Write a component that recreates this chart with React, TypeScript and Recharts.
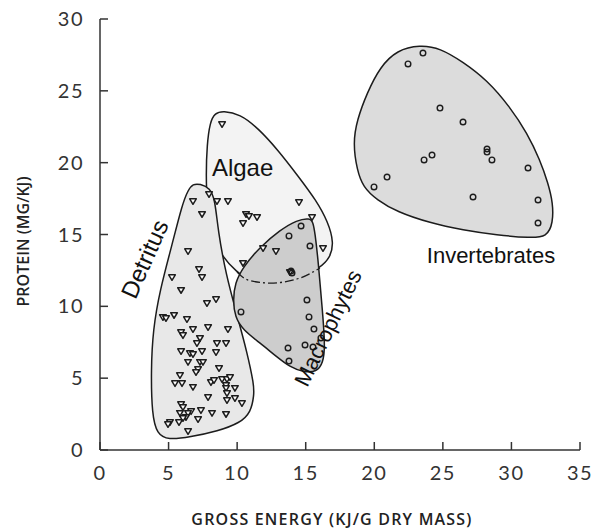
import React from 'react';
import { ScatterChart, Scatter, XAxis, YAxis } from 'recharts';

// axis ticks
const xTicks = [0, 5, 10, 15, 20, 25, 30, 35];
const yTicks = [0, 5, 10, 15, 20, 25, 30];

// samples: gross energy (kJ/g dry mass) vs protein (mg/kJ)
const detritus = [
  { x: 7.95, y: 17.82 }, { x: 6.78, y: 17.33 }, { x: 8.53, y: 17.33 }, { x: 7.44, y: 16.43 },
  { x: 6.42, y: 13.85 }, { x: 7.22, y: 12.6 }, { x: 7.44, y: 12.04 }, { x: 5.25, y: 12.04 },
  { x: 5.91, y: 11.14 }, { x: 7.8, y: 10.23 }, { x: 8.46, y: 10.51 }, { x: 4.59, y: 9.26 },
  { x: 4.81, y: 9.19 }, { x: 5.4, y: 9.4 }, { x: 6.34, y: 9.12 }, { x: 5.91, y: 8.21 },
  { x: 6.05, y: 8.0 }, { x: 6.78, y: 8.42 }, { x: 7.88, y: 8.56 }, { x: 9.33, y: 8.42 },
  { x: 7.29, y: 7.8 }, { x: 7.07, y: 7.45 }, { x: 8.53, y: 7.45 }, { x: 9.19, y: 7.45 },
  { x: 5.91, y: 6.89 }, { x: 6.56, y: 6.75 }, { x: 6.78, y: 6.68 }, { x: 7.44, y: 6.89 },
  { x: 8.46, y: 6.82 }, { x: 6.42, y: 6.13 }, { x: 7.29, y: 6.13 }, { x: 7.51, y: 6.13 },
  { x: 7.15, y: 5.64 }, { x: 7.0, y: 5.43 }, { x: 8.68, y: 5.71 }, { x: 5.83, y: 5.22 },
  { x: 5.47, y: 4.66 }, { x: 5.98, y: 4.66 }, { x: 6.78, y: 4.39 }, { x: 8.09, y: 4.73 },
  { x: 8.31, y: 4.87 }, { x: 8.9, y: 4.94 }, { x: 9.26, y: 4.94 }, { x: 9.48, y: 5.08 },
  { x: 9.19, y: 4.52 }, { x: 9.19, y: 4.32 }, { x: 9.84, y: 4.32 }, { x: 7.88, y: 3.69 },
  { x: 9.26, y: 3.97 }, { x: 9.26, y: 3.48 }, { x: 9.84, y: 3.62 }, { x: 10.35, y: 3.27 },
  { x: 5.91, y: 3.2 }, { x: 6.05, y: 2.99 }, { x: 6.64, y: 2.71 }, { x: 7.36, y: 2.78 },
  { x: 8.17, y: 2.58 }, { x: 5.83, y: 2.58 }, { x: 6.42, y: 2.58 }, { x: 6.27, y: 2.3 },
  { x: 6.05, y: 2.23 }, { x: 5.1, y: 1.95 }, { x: 4.96, y: 1.81 }, { x: 5.76, y: 1.95 },
  { x: 7.15, y: 2.16 }, { x: 9.19, y: 2.51 }, { x: 6.42, y: 1.32 },
];

const algae = [
  { x: 8.9, y: 22.69 }, { x: 9.33, y: 17.33 }, { x: 10.65, y: 16.43 }, { x: 10.86, y: 16.29 },
  { x: 11.45, y: 16.22 }, { x: 10.43, y: 15.8 }, { x: 14.51, y: 17.26 }, { x: 15.46, y: 16.22 },
  { x: 11.89, y: 14.06 }, { x: 12.83, y: 13.85 }, { x: 16.26, y: 14.06 }, { x: 10.43, y: 13.02 },
  { x: 13.85, y: 12.39 },
];

const macrophytes = [
  { x: 14.66, y: 15.59 }, { x: 13.78, y: 14.9 }, { x: 15.31, y: 14.2 }, { x: 13.93, y: 12.46 },
  { x: 14.0, y: 12.32 }, { x: 15.09, y: 10.44 }, { x: 10.28, y: 9.61 }, { x: 15.24, y: 9.26 },
  { x: 15.6, y: 8.42 }, { x: 16.11, y: 7.8 }, { x: 13.71, y: 7.1 }, { x: 14.95, y: 7.31 },
  { x: 15.53, y: 7.17 }, { x: 13.78, y: 6.19 },
];

const invertebrates = [
  { x: 23.55, y: 27.63 }, { x: 22.46, y: 26.87 }, { x: 24.79, y: 23.8 }, { x: 26.47, y: 22.83 },
  { x: 28.22, y: 20.95 }, { x: 28.22, y: 20.74 }, { x: 28.58, y: 20.19 }, { x: 24.21, y: 20.53 },
  { x: 23.63, y: 20.19 }, { x: 31.21, y: 19.63 }, { x: 20.93, y: 19.0 }, { x: 19.98, y: 18.31 },
  { x: 27.2, y: 17.61 }, { x: 31.94, y: 17.4 }, { x: 31.94, y: 15.8 },
];

// group envelopes (control points of the smoothed outlines)
const algaeHull = [
  { x: 8.97, y: 23.6 }, { x: 10.21, y: 23.39 }, { x: 11.52, y: 22.41 }, { x: 12.98, y: 20.88 },
  { x: 14.44, y: 19.07 }, { x: 15.75, y: 17.4 }, { x: 16.63, y: 15.87 }, { x: 17.06, y: 14.41 },
  { x: 16.77, y: 13.36 }, { x: 16.04, y: 12.67 }, { x: 14.58, y: 11.97 }, { x: 12.4, y: 11.62 },
  { x: 10.79, y: 11.83 }, { x: 9.99, y: 12.39 }, { x: 8.9, y: 13.43 }, { x: 8.17, y: 14.96 },
  { x: 7.8, y: 17.05 }, { x: 7.73, y: 19.14 }, { x: 7.8, y: 21.23 }, { x: 8.02, y: 22.83 },
  { x: 8.39, y: 23.46 },
];

const detritusHull = [
  { x: 7.29, y: 18.52 }, { x: 8.02, y: 18.24 }, { x: 8.39, y: 17.4 }, { x: 8.6, y: 15.31 },
  { x: 9.19, y: 12.18 }, { x: 9.99, y: 9.4 }, { x: 10.72, y: 6.82 }, { x: 11.23, y: 4.52 },
  { x: 11.23, y: 3.83 }, { x: 11.01, y: 2.64 }, { x: 10.21, y: 1.88 }, { x: 8.6, y: 1.32 },
  { x: 6.56, y: 0.9 }, { x: 4.96, y: 0.7 }, { x: 4.16, y: 1.11 }, { x: 3.79, y: 2.44 },
  { x: 3.72, y: 5.57 }, { x: 3.86, y: 8.35 }, { x: 4.37, y: 11.14 }, { x: 5.25, y: 14.27 },
  { x: 5.98, y: 17.05 }, { x: 6.42, y: 18.1 }, { x: 6.78, y: 18.52 },
];

const macrophyteHull = [
  { x: 15.31, y: 16.15 }, { x: 14.36, y: 16.01 }, { x: 13.13, y: 15.31 }, { x: 11.67, y: 14.13 },
  { x: 10.43, y: 12.74 }, { x: 9.84, y: 11.62 }, { x: 9.7, y: 10.44 }, { x: 9.84, y: 9.26 },
  { x: 10.43, y: 8.35 }, { x: 11.67, y: 7.45 }, { x: 12.91, y: 6.47 }, { x: 13.85, y: 5.78 },
  { x: 14.8, y: 5.43 }, { x: 15.82, y: 5.43 }, { x: 16.26, y: 6.06 }, { x: 16.41, y: 7.17 },
  { x: 16.26, y: 9.26 }, { x: 16.04, y: 11.62 }, { x: 15.9, y: 13.22 }, { x: 15.68, y: 15.1 },
  { x: 15.53, y: 15.87 },
];

const invertebrateHull = [
  { x: 23.33, y: 28.19 }, { x: 21.66, y: 27.84 }, { x: 20.42, y: 26.66 }, { x: 19.47, y: 24.85 },
  { x: 18.74, y: 22.97 }, { x: 18.45, y: 21.37 }, { x: 18.74, y: 19.49 }, { x: 19.18, y: 18.31 },
  { x: 20.2, y: 17.4 }, { x: 21.66, y: 16.57 }, { x: 24.06, y: 15.8 }, { x: 26.47, y: 15.31 },
  { x: 28.95, y: 14.96 }, { x: 31.36, y: 14.76 }, { x: 32.59, y: 14.83 }, { x: 33.03, y: 15.8 },
  { x: 33.03, y: 17.19 }, { x: 32.67, y: 18.58 }, { x: 32.08, y: 20.19 }, { x: 31.14, y: 22.06 },
  { x: 29.9, y: 23.87 }, { x: 28.22, y: 25.75 }, { x: 26.47, y: 27.01 }, { x: 24.79, y: 27.98 },
];

// algae boundary hidden beneath the macrophyte envelope (dash-dot)
const algaeHiddenEdge = [
  { x: 9.99, y: 12.39 }, { x: 10.79, y: 11.83 }, { x: 12.4, y: 11.62 }, { x: 14.58, y: 11.97 },
  { x: 16.04, y: 12.67 },
];

// group names and where they sit (data units)
const groupNames = ['Algae', 'Detritus', 'Macrophytes', 'Invertebrates'];
const groupNameX = [10.4, 3.25, 16.63, 28.51];
const groupNameY = [19.63, 13.3, 8.49, 13.57];
const groupNameAngle = [0, -66, -64, 0];

const groupLabels = groupNames.map((name, i) => ({
  x: groupNameX[i],
  y: groupNameY[i],
  name,
  angle: groupNameAngle[i],
}));

const INK = '#1c1c1c';
const AXIS = '#333';
const nameSize: Record<string, number> = { Algae: 24, Detritus: 24, Macrophytes: 22, Invertebrates: 22 };

const Triangle = (p: any) => {
  const { cx, cy } = p;
  if (cx == null || cy == null) return <g />;
  return (
    <path
      d={`M${cx - 3.3},${cy - 2.2}L${cx + 3.3},${cy - 2.2}L${cx},${cy + 3.3}Z`}
      fill="#fff"
      stroke={INK}
      strokeWidth={1.5}
      strokeLinejoin="round"
    />
  );
};

const Ring = (p: any) => {
  const { cx, cy } = p;
  if (cx == null || cy == null) return <g />;
  return <circle cx={cx} cy={cy} r={2.8} fill="none" stroke={INK} strokeWidth={1.4} />;
};

const NoDot = () => <g />;

const GroupName = (p: any) => {
  const { cx, cy, payload } = p;
  if (cx == null || cy == null) return <g />;
  return (
    <text
      x={cx}
      y={cy}
      textAnchor="middle"
      dominantBaseline="central"
      transform={`rotate(${payload.angle} ${cx} ${cy})`}
      fontFamily="'Liberation Sans', Arial, sans-serif"
      fontSize={nameSize[payload.name] || 22}
      fill="#111"
    >
      {payload.name}
    </text>
  );
};

const titleFont = "'Open Sans', sans-serif";

const XTitle = (p: any) => {
  const vb = p.viewBox || { x: 100, y: 450, width: 480, height: 79 };
  return (
    <text
      x={vb.x + vb.width / 2 - 8}
      y={vb.y + vb.height - 4}
      textAnchor="middle"
      fontFamily={titleFont}
      fontWeight={600}
      fontSize={16}
      letterSpacing={1.2}
      fill="#222"
    >
      GROSS ENERGY (KJ/G DRY MASS)
    </text>
  );
};

const YTitle = (p: any) => {
  const vb = p.viewBox || { x: 0, y: 19, width: 100, height: 431 };
  const cx = vb.x + 23;
  const cy = vb.y + vb.height / 2 + 7;
  return (
    <text
      x={cx}
      y={cy}
      textAnchor="middle"
      dominantBaseline="central"
      transform={`rotate(-90 ${cx} ${cy})`}
      fontFamily={titleFont}
      fontWeight={600}
      fontSize={16}
      fill="#222"
    >
      PROTEIN (MG/KJ)
    </text>
  );
};

const tickFont = { fill: '#333', fontSize: 20, fontFamily: 'Lato, sans-serif', fontWeight: 400, letterSpacing: 1.5 };
const lineStyle = { stroke: AXIS, strokeWidth: 1.5 };
const blank = () => '';

export default function App() {
  return (
    <div style={{ position: 'absolute', left: 0, top: 0, width: 595, height: 529, background: '#fff' }}>
      <ScatterChart width={595} height={529} margin={{ top: 19, right: 15, bottom: 0, left: 0 }}>
        <XAxis
          xAxisId="b"
          type="number"
          dataKey="x"
          domain={[0, 35]}
          ticks={xTicks}
          interval={0}
          height={79}
          tickSize={-8}
          tickMargin={24}
          axisLine={lineStyle}
          tickLine={lineStyle}
          tick={tickFont}
          label={{ content: XTitle }}
        />
        <XAxis
          xAxisId="t"
          orientation="top"
          type="number"
          dataKey="x"
          domain={[0, 35]}
          ticks={xTicks}
          interval={0}
          height={0}
          tickSize={-8}
          axisLine={lineStyle}
          tickLine={lineStyle}
          tickFormatter={blank}
        />
        <YAxis
          yAxisId="l"
          type="number"
          dataKey="y"
          domain={[0, 30]}
          ticks={yTicks}
          interval={0}
          width={100}
          tickSize={-8}
          tickMargin={24}
          axisLine={lineStyle}
          tickLine={lineStyle}
          tick={tickFont}
          label={{ content: YTitle }}
        />
        <YAxis
          yAxisId="r"
          orientation="right"
          type="number"
          dataKey="y"
          domain={[0, 30]}
          ticks={yTicks}
          interval={0}
          width={0}
          tickSize={-8}
          axisLine={lineStyle}
          tickLine={lineStyle}
          tickFormatter={blank}
        />

        <Scatter
          xAxisId="b"
          yAxisId="l"
          data={algaeHull}
          shape={NoDot}
          line={{ fill: '#f3f3f3', stroke: INK, strokeWidth: 1.5 }}
          lineJointType="basisClosed"
          isAnimationActive={false}
        />
        <Scatter
          xAxisId="b"
          yAxisId="l"
          data={detritusHull}
          shape={NoDot}
          line={{ fill: '#e8e8e8', stroke: INK, strokeWidth: 1.5 }}
          lineJointType="basisClosed"
          isAnimationActive={false}
        />
        <Scatter
          xAxisId="b"
          yAxisId="l"
          data={macrophyteHull}
          shape={NoDot}
          line={{ fill: '#cdcdcd', stroke: INK, strokeWidth: 1.5 }}
          lineJointType="basisClosed"
          isAnimationActive={false}
        />
        <Scatter
          xAxisId="b"
          yAxisId="l"
          data={invertebrateHull}
          shape={NoDot}
          line={{ fill: '#dcdcdc', stroke: INK, strokeWidth: 1.5 }}
          lineJointType="basisClosed"
          isAnimationActive={false}
        />
        <Scatter
          xAxisId="b"
          yAxisId="l"
          data={algaeHiddenEdge}
          shape={NoDot}
          line={{ fill: 'none', stroke: INK, strokeWidth: 1.3, strokeDasharray: '9 3 2 3' }}
          lineJointType="monotoneX"
          isAnimationActive={false}
        />

        <Scatter xAxisId="b" yAxisId="l" data={detritus} shape={Triangle} isAnimationActive={false} />
        <Scatter xAxisId="b" yAxisId="l" data={algae} shape={Triangle} isAnimationActive={false} />
        <Scatter xAxisId="b" yAxisId="l" data={macrophytes} shape={Ring} isAnimationActive={false} />
        <Scatter xAxisId="b" yAxisId="l" data={invertebrates} shape={Ring} isAnimationActive={false} />

        <Scatter xAxisId="b" yAxisId="l" data={groupLabels} shape={GroupName} isAnimationActive={false} />
      </ScatterChart>
    </div>
  );
}
